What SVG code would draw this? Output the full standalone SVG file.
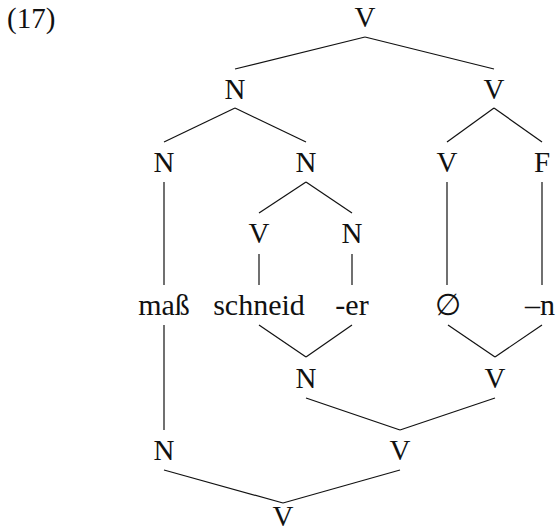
<svg xmlns="http://www.w3.org/2000/svg" width="556" height="532" viewBox="0 0 556 532">
<style>
text{font-family:"Liberation Serif","Times New Roman",serif;font-size:29px;fill:#111;text-anchor:middle}
text.w{font-size:30px}
.e line{stroke:#111;stroke-width:1.2;fill:none}
</style>
<rect width="556" height="532" fill="#fff"/>
<text x="7" y="28" style="text-anchor:start">(17)</text>
<g class="e" id="connectors">
<line x1="365" y1="37" x2="235" y2="69"/>
<line x1="365" y1="37" x2="494" y2="69"/>
<line x1="235" y1="108" x2="164" y2="142"/>
<line x1="235" y1="108" x2="306" y2="142"/>
<line x1="494" y1="108" x2="447" y2="142"/>
<line x1="494" y1="108" x2="542" y2="142"/>
<line x1="164" y1="182" x2="164" y2="285"/>
<line x1="306" y1="182" x2="259" y2="213"/>
<line x1="306" y1="182" x2="352" y2="213"/>
<line x1="447" y1="182" x2="447" y2="285"/>
<line x1="542" y1="182" x2="542" y2="285"/>
<line x1="259" y1="254" x2="259" y2="285"/>
<line x1="352" y1="254" x2="352" y2="285"/>
<line x1="164" y1="325" x2="164" y2="430"/>
<line x1="259" y1="325" x2="306" y2="357"/>
<line x1="352" y1="325" x2="306" y2="357"/>
<line x1="448" y1="325" x2="495" y2="357"/>
<line x1="542" y1="325" x2="495" y2="357"/>
<line x1="306" y1="398" x2="400" y2="430"/>
<line x1="495" y1="398" x2="400" y2="430"/>
<line x1="164" y1="470" x2="283" y2="503"/>
<line x1="400" y1="470" x2="283" y2="503"/>
</g>
<g id="n-top"><text x="365" y="27">V</text></g>
<g id="n-N2"><text x="235" y="99">N</text></g>
<g id="n-V2"><text x="494" y="99">V</text></g>
<g id="n-N3a"><text x="164" y="172">N</text></g>
<g id="n-N3b"><text x="306" y="172">N</text></g>
<g id="n-V3"><text x="447" y="172">V</text></g>
<g id="n-F3"><text x="542" y="172">F</text></g>
<g id="n-V4"><text x="259" y="243">V</text></g>
<g id="n-N4"><text x="352" y="243">N</text></g>
<g id="w-mass"><text class="w" x="164" y="315">maß</text></g>
<g id="w-schneid"><text class="w" x="259" y="315">schneid</text></g>
<g id="w-er"><text class="w" x="352" y="315">-er</text></g>
<g id="w-null"><text class="w" x="448" y="315">∅</text></g>
<g id="w-n"><text class="w" x="540" y="315">–n</text></g>
<g id="n-N6"><text x="306" y="388">N</text></g>
<g id="n-V6"><text x="495" y="388">V</text></g>
<g id="n-N7"><text x="164" y="460">N</text></g>
<g id="n-V7"><text x="400" y="460">V</text></g>
<g id="n-bottom"><text x="283" y="526">V</text></g>
</svg>
